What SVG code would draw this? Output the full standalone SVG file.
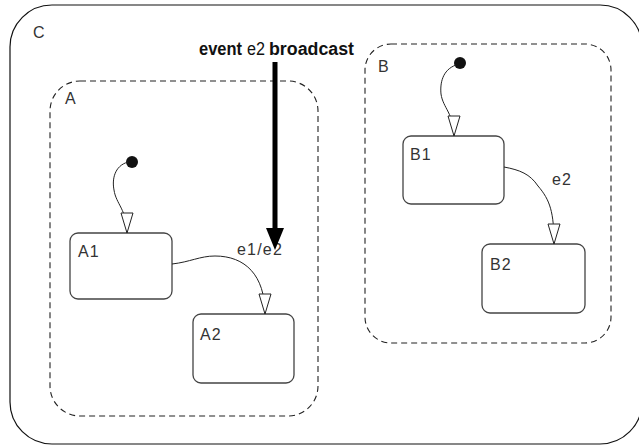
<svg xmlns="http://www.w3.org/2000/svg" width="639" height="445" viewBox="0 0 639 445">
<style>
.lbl{font-family:"Liberation Sans",Arial,sans-serif;font-size:16px;letter-spacing:1.2px;fill:#333}
.state{fill:#fff;stroke:#444;stroke-width:1.3}
.super{fill:none;stroke:#222;stroke-width:1.1;stroke-dasharray:6 4}
.tr{fill:none;stroke:#222;stroke-width:1}
.bold{font-family:"Liberation Sans",Arial,sans-serif;font-size:18px;font-weight:bold;fill:#111}
</style>
<defs>
<marker id="open" markerUnits="userSpaceOnUse" markerWidth="22" markerHeight="14" viewBox="-21 -7 22 14" refX="0" refY="0" orient="auto">
<path d="M0,0 L-20,-6 L-20,6 Z" fill="#fff" stroke="#222" stroke-width="1"/>
</marker>
</defs>
<rect width="639" height="445" fill="#fff"/>
<g id="C">
<rect x="10" y="5" width="632" height="439" rx="42" fill="none" stroke="#111" stroke-width="1.2"/>
<text class="lbl" x="33" y="38">C</text>
</g>
<g id="A">
<rect class="super" x="50" y="81" width="268" height="335" rx="30"/>
<text class="lbl" x="65" y="104">A</text>
</g>
<g id="B">
<rect class="super" x="365" y="44" width="246" height="299" rx="26"/>
<text class="lbl" x="378" y="72">B</text>
</g>
<g id="A1">
<rect class="state" x="70" y="233" width="102" height="66" rx="8"/>
<text class="lbl" x="78" y="257">A1</text>
</g>
<g id="A2">
<rect class="state" x="193" y="314" width="101" height="69" rx="8"/>
<text class="lbl" x="200" y="340">A2</text>
</g>
<g id="B1">
<rect class="state" x="403" y="136" width="101" height="68" rx="8"/>
<text class="lbl" x="410" y="160">B1</text>
</g>
<g id="B2">
<rect class="state" x="482" y="244" width="103" height="69" rx="8"/>
<text class="lbl" x="490" y="270">B2</text>
</g>
<g id="connectors">
<circle cx="132" cy="162" r="6" fill="#111"/>
<path class="tr" d="M128,162 C114,166 112,180 114,190 C116,204 127,210 127,233" marker-end="url(#open)"/>
<circle cx="460" cy="63" r="6" fill="#111"/>
<path class="tr" d="M456,65 C442,70 440,84 441,94 C443,108 454,114 454,136" marker-end="url(#open)"/>
<path class="tr" d="M172,264 C190,262 200,256 215,256 C245,256 265,275 265,314" marker-end="url(#open)"/>
<path class="tr" d="M504,167 C520,170 530,174 538,186 C550,200 554,212 554,244" marker-end="url(#open)"/>
<text class="lbl" x="552" y="185">e2</text>
<text class="lbl" x="237" y="255">e1/e2</text>
<line x1="275" y1="62" x2="275" y2="232" stroke="#000" stroke-width="5"/>
<path d="M266,228 L284,228 L275,250 Z" fill="#000"/>
</g>
<g id="broadcast-label">
<text class="bold" x="199" y="55" textLength="43" lengthAdjust="spacingAndGlyphs">event</text>
<text x="247" y="55" font-family="Liberation Sans,Arial,sans-serif" font-size="18" fill="#111" textLength="18" lengthAdjust="spacingAndGlyphs">e2</text>
<text class="bold" x="269" y="55" textLength="85" lengthAdjust="spacingAndGlyphs">broadcast</text>
</g>
</svg>
